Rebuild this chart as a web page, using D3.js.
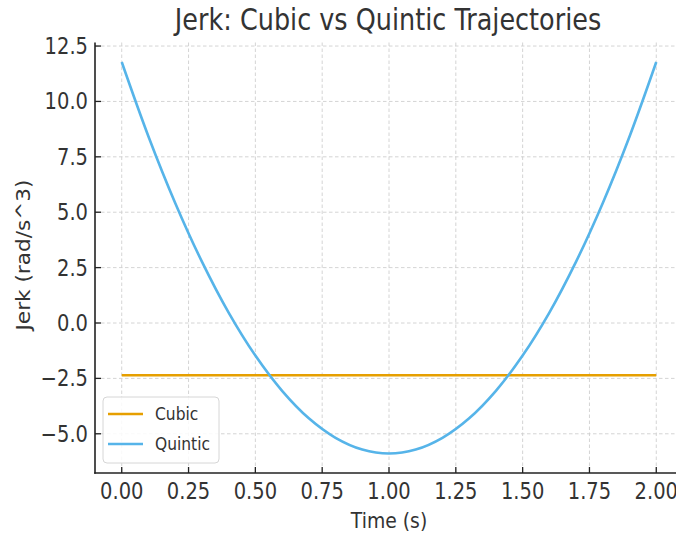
<!DOCTYPE html>
<html><head><meta charset="utf-8">
<script src="https://cdn.jsdelivr.net/npm/d3@7"></script>
<style>body{margin:0;background:#fff}svg{display:block}</style>
</head><body>
<svg id="c" width="676" height="535"></svg>
<script>
const time = [0,0.1,0.2,0.3,0.4,0.5,0.6,0.7,0.8,0.9,1.0,1.1,1.2,1.3,1.4,1.5,1.6,1.7,1.8,1.9,2.0];
const quintic = [11.78,8.42,5.42,2.77,0.47,-1.47,-3.06,-4.30,-5.18,-5.71,-5.89,-5.71,-5.18,-4.30,-3.06,-1.47,0.47,2.77,5.42,8.42,11.78];
const cubic = [-2.36,-2.36,-2.36,-2.36,-2.36,-2.36,-2.36,-2.36,-2.36,-2.36,-2.36,-2.36,-2.36,-2.36,-2.36,-2.36,-2.36,-2.36,-2.36,-2.36,-2.36];
const xTicks = [0,0.25,0.5,0.75,1.0,1.25,1.5,1.75,2.0];
const yTicks = [-5,-2.5,0,2.5,5,7.5,10,12.5];
const seriesNames = ["Cubic","Quintic"];
const colors = ["#E69F00","#56B4E9"];

const svg = d3.select("#c");
const FONT = "DejaVu Sans, sans-serif";
const SY = 1.15;
const x = d3.scaleLinear().domain([-0.1,2.1]).range([95,683]);
const y = d3.scaleLinear().domain([-6.77,12.66]).range([473,42.5]);
const L = 95, B = 473, T = 42.5, R = 676;

function txt(px, py, s, size, anchor, rot, fill) {
  const sc = rot ? `scale(${SY},1)` : `scale(1,${SY})`;
  return svg.append("text")
    .attr("transform", `translate(${px},${py}) rotate(${rot||0}) ${sc}`)
    .attr("text-anchor", anchor).attr("dominant-baseline","central")
    .attr("font-family", FONT).attr("font-size", size)
    .attr("fill", fill || "#333").text(s);
}

// grid
const grid = svg.append("g").attr("stroke","#cfcfcf").attr("stroke-width",0.9).attr("stroke-dasharray","3.5,2.5");
xTicks.forEach(v => grid.append("line").attr("x1",x(v)).attr("x2",x(v)).attr("y1",T).attr("y2",B));
yTicks.forEach(v => grid.append("line").attr("x1",L).attr("x2",R).attr("y1",y(v)).attr("y2",y(v)));

// lines
const line = d3.line().x((d,i)=>x(time[i])).y(d=>y(d)).curve(d3.curveCatmullRom);
svg.append("path").datum(cubic).attr("d",line).attr("fill","none").attr("stroke",colors[0]).attr("stroke-width",2.6);
svg.append("path").datum(quintic).attr("d",line).attr("fill","none").attr("stroke",colors[1]).attr("stroke-width",2.6);

// spines
svg.append("line").attr("x1",L).attr("x2",L).attr("y1",T).attr("y2",B+0.8).attr("stroke","#222").attr("stroke-width",1.6);
svg.append("line").attr("x1",L-0.8).attr("x2",R).attr("y1",B).attr("y2",B).attr("stroke","#222").attr("stroke-width",1.6);

// ticks (inward)
xTicks.forEach(v => {
  svg.append("line").attr("x1",x(v)).attr("x2",x(v)).attr("y1",B).attr("y2",B-6).attr("stroke","#222").attr("stroke-width",1.3);
  txt(x(v), 491, d3.format(".2f")(v), 19.5, "middle");
});
yTicks.forEach(v => {
  svg.append("line").attr("x1",L).attr("x2",L+6).attr("y1",y(v)).attr("y2",y(v)).attr("stroke","#222").attr("stroke-width",1.3);
  txt(88, y(v), d3.format(".1f")(v).replace("-","\u2212"), 19.5, "end");
});

// labels
txt(389, 521, "Time (s)", 18.8, "middle");
txt(24, 255, "Jerk (rad/s^3)", 18.8, "middle", -90);
txt(388, 20, "Jerk: Cubic vs Quintic Trajectories", 25.5, "middle");

// legend
svg.append("rect").attr("x",103).attr("y",397).attr("width",116).attr("height",66).attr("rx",4)
  .attr("fill","#fff").attr("fill-opacity",0.85).attr("stroke","#d6d6d6").attr("stroke-width",1);
seriesNames.forEach((n,i) => {
  const ly = 414 + i*30;
  svg.append("line").attr("x1",108).attr("x2",143).attr("y1",ly).attr("y2",ly).attr("stroke",colors[i]).attr("stroke-width",2.6);
  txt(155, ly, n, 15.5, "start");
});
</script>
</body></html>
